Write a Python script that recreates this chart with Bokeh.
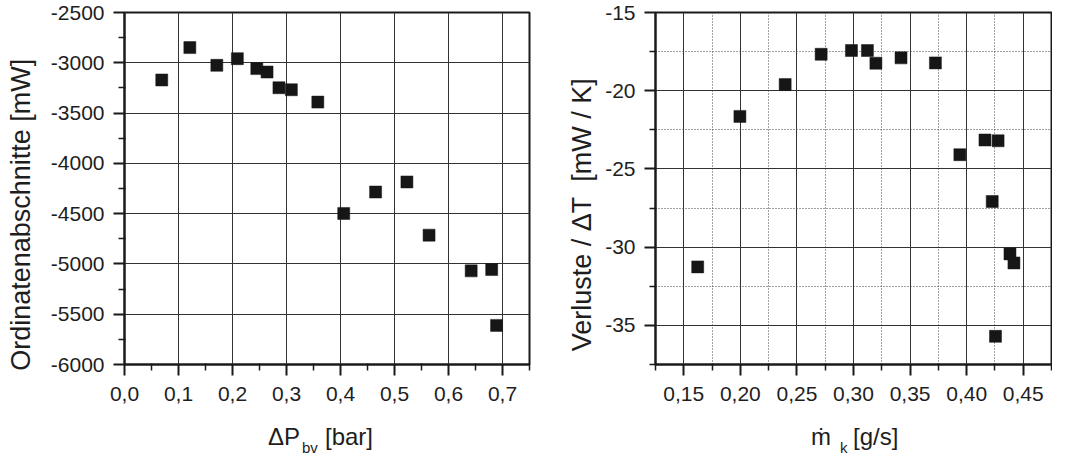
from bokeh.plotting import figure
from bokeh.layouts import row, column
from bokeh.models import FixedTicker, Range1d, Div
from bokeh.embed import file_html
from bokeh.resources import INLINE

# ---------------- data: left panel ----------------
dp_bv = [0.069, 0.121, 0.171, 0.209, 0.245, 0.264, 0.286, 0.309, 0.358,
         0.406, 0.465, 0.523, 0.564, 0.642, 0.680, 0.689]
ordinate_mw = [-3171, -2849, -3025, -2959, -3058, -3092, -3248, -3268, -3391,
               -4498, -4285, -4185, -4714, -5069, -5056, -5611]

left_x_ticks = [0.0, 0.1, 0.2, 0.3, 0.4, 0.5, 0.6, 0.7]
left_x_labels = ["0,0", "0,1", "0,2", "0,3", "0,4", "0,5", "0,6", "0,7"]
left_x_minor = [0.05, 0.15, 0.25, 0.35, 0.45, 0.55, 0.65, 0.75]
left_y_ticks = [-6000, -5500, -5000, -4500, -4000, -3500, -3000, -2500]
left_y_labels = ["-6000", "-5500", "-5000", "-4500", "-4000", "-3500", "-3000", "-2500"]
left_y_minor = [-5750, -5250, -4750, -4250, -3750, -3250, -2750]

# ---------------- data: right panel ----------------
m_k = [0.1623, 0.1996, 0.2396, 0.2714, 0.2982, 0.3123, 0.3198, 0.3420,
       0.3724, 0.3940, 0.4162, 0.4278, 0.4226, 0.4383, 0.4418, 0.4255]
verluste = [-31.26, -21.64, -19.61, -17.67, -17.43, -17.43, -18.24, -17.90,
            -18.22, -24.09, -23.15, -23.20, -27.08, -30.43, -31.01, -35.70]

right_x_ticks = [0.15, 0.20, 0.25, 0.30, 0.35, 0.40, 0.45]
right_x_labels = ["0,15", "0,20", "0,25", "0,30", "0,35", "0,40", "0,45"]
right_x_minor = [0.125, 0.175, 0.225, 0.275, 0.325, 0.375, 0.425, 0.475]
right_y_ticks = [-35, -30, -25, -20, -15]
right_y_labels = ["-35", "-30", "-25", "-20", "-15"]
right_y_minor = [-37.5, -32.5, -27.5, -22.5, -17.5]

left_ylabel = "Ordinatenabschnitte [mW]"
right_ylabel = "Verluste / \u0394T\u00a0\u00a0[mW / K]"

FONT = "Liberation Sans"
TXT = "#1e1e1e"
H = 409
PAD = "\u00a0" * 7


def style_axes(p, xt, xl, xm, yt, yl, ym):
    p.xaxis.ticker = FixedTicker(ticks=xt, minor_ticks=xm)
    p.yaxis.ticker = FixedTicker(ticks=yt, minor_ticks=ym)
    p.xaxis.major_label_overrides = {t: s for t, s in zip(xt, xl)}
    p.yaxis.major_label_overrides = {t: s for t, s in zip(yt, yl)}
    for ax in (p.xaxis, p.yaxis):
        ax.axis_line_width = 2
        ax.axis_line_color = "#1a1a1a"
        ax.major_tick_out = 11
        ax.major_tick_in = 0
        ax.minor_tick_out = 6
        ax.minor_tick_in = 1
        ax.major_tick_line_width = 2
        ax.minor_tick_line_width = 1.5
        ax.major_tick_line_color = "#1a1a1a"
        ax.minor_tick_line_color = "#1a1a1a"
        ax.major_label_text_font = FONT
        ax.major_label_text_font_size = "21px"
        ax.major_label_text_color = TXT
        ax.axis_label_text_font = FONT
        ax.axis_label_text_font_size = "27px"
        ax.axis_label_text_font_style = "normal"
        ax.axis_label_text_color = TXT
    p.xaxis.major_label_standoff = 11
    p.yaxis.major_label_standoff = 9
    p.outline_line_color = "#1a1a1a"
    p.outline_line_width = 2
    p.background_fill_color = "white"
    p.border_fill_color = "white"


# ---------------- left figure ----------------
p1 = figure(width=540, height=H, output_backend="svg", toolbar_location=None,
            x_range=Range1d(0.0, 0.75), y_range=Range1d(-6000, -2500),
            min_border_left=124, min_border_right=11,
            min_border_top=12, min_border_bottom=45)
style_axes(p1, left_x_ticks, left_x_labels, left_x_minor,
           left_y_ticks, left_y_labels, left_y_minor)
p1.yaxis.axis_label = left_ylabel + PAD
p1.yaxis.axis_label_standoff = 12
p1.grid.grid_line_color = "#333333"
p1.grid.grid_line_width = 1
p1.scatter(dp_bv, ordinate_mw, marker="square", size=12,
           fill_color="#161616", line_color="#161616", line_width=0.5)

# ---------------- right figure ----------------
p2 = figure(width=512, height=H, output_backend="svg", toolbar_location=None,
            x_range=Range1d(0.125, 0.475), y_range=Range1d(-37.5, -15),
            min_border_left=115, min_border_right=1,
            min_border_top=12, min_border_bottom=45)
style_axes(p2, right_x_ticks, right_x_labels, right_x_minor,
           right_y_ticks, right_y_labels, right_y_minor)
p2.yaxis.axis_label = right_ylabel + PAD
p2.yaxis.axis_label_standoff = 5
p2.grid.grid_line_color = "#333333"
p2.grid.grid_line_width = 1
p2.grid.minor_grid_line_color = "#444444"
p2.grid.minor_grid_line_dash = "1 2"
p2.grid.minor_grid_line_width = 1
p2.scatter(m_k, verluste, marker="square", size=12,
           fill_color="#161616", line_color="#161616", line_width=0.5)

# ---------------- x axis titles (with subscripts) ----------------
def span(txt, left, top, size):
    return (f'<span style="position:absolute;left:{left}px;top:{top}px;'
            f'font-size:{size}px;line-height:{size}px;white-space:nowrap;">{txt}</span>')

html = (
    f'<div style="position:relative;width:1052px;height:35px;'
    f'font-family:\'{FONT}\',Arial,sans-serif;color:{TXT};">'
    + span("\u0394P", 268, 16, 24)
    + span("bv", 302, 31, 15)
    + span("[bar]", 325, 16, 24)
    + span("\u1e41", 811, 16, 24)
    + span("k", 840, 31, 15)
    + span("[g/s]", 853, 16, 24)
    + '</div>'
)
xlabels = Div(text=html, width=1052, height=35, margin=(0, 0, 0, 0),
              styles={"overflow": "visible"})

layout = column(row(p1, p2), xlabels)
open("out.html", "w").write(file_html(layout, INLINE))
